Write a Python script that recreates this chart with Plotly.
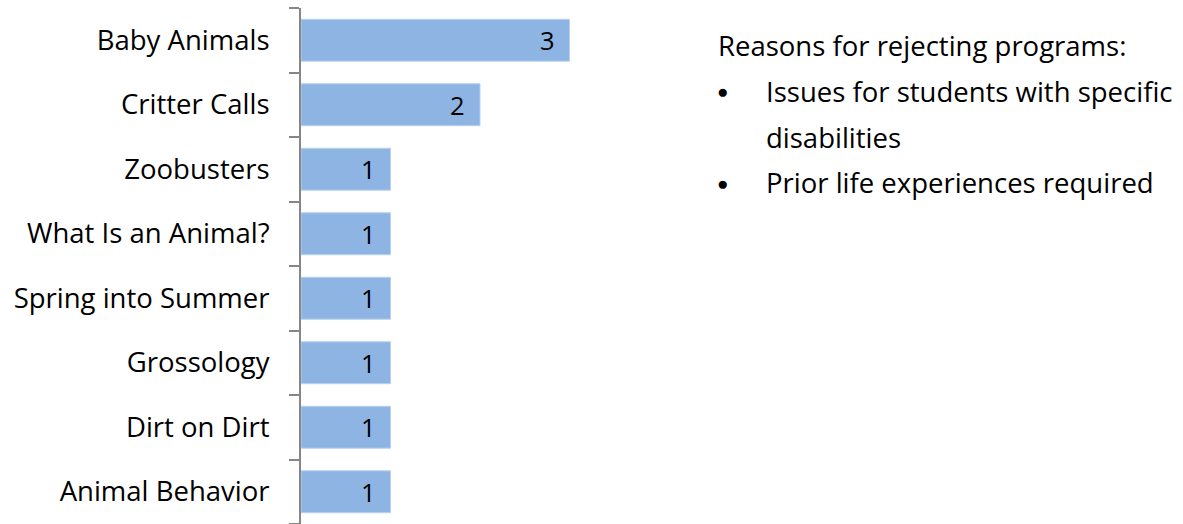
import plotly.graph_objects as go

categories = ["Baby Animals", "Critter Calls", "Zoobusters", "What Is an Animal?",
              "Spring into Summer", "Grossology", "Dirt on Dirt", "Animal Behavior"]
values = [3, 2, 1, 1, 1, 1, 1, 1]
note_title = "Reasons for rejecting programs:"
note_bullets = [["Issues for students with specific", "disabilities"],
                ["Prior life experiences required"]]

FONT = "Open Sans"
FS = 27.5
W, H = 1183, 524
L, R, T, B = 301, 524, 8, 0
pw = W - L - R
ph = H - T - B

fig = go.Figure(go.Bar(
    y=categories, x=values, orientation="h",
    marker=dict(color="#8EB4E3", line=dict(color="#B9D1EE", width=1)),
    hoverinfo="none",
))

fig.update_layout(
    width=W, height=H, margin=dict(l=L, r=R, t=T, b=B, pad=0),
    paper_bgcolor="white", plot_bgcolor="white",
    bargap=0.35, showlegend=False,
    font=dict(family=FONT, size=FS, color="black"),
    xaxis=dict(range=[0, 4], visible=False, fixedrange=True),
    yaxis=dict(categoryorder="array", categoryarray=categories[::-1],
               autorange=False, range=[-0.5, len(categories) - 0.5],
               showline=True, linecolor="#868686", linewidth=2,
               ticks="outside", ticklen=10, tickcolor="#868686", tickwidth=2,
               tickson="boundaries", showgrid=False, zeroline=False,
               ticklabelstandoff=24, fixedrange=True,
               tickfont=dict(family=FONT, size=FS, color="black")),
)

# value labels inside bar ends
for c, v in zip(categories, values):
    fig.add_annotation(x=v, y=c, xref="x", yref="y", text=str(v), showarrow=False,
                       xanchor="right", yanchor="middle", xshift=-13,
                       font=dict(family=FONT, size=FS - 2, color="black"))

def px(x):
    return (x - L) / pw

def py(y):
    return 1 - (y - T) / ph

ann = [dict(text=note_title, x=px(716), y=py(45), size=FS)]
ycur = 91
for lines in note_bullets:
    ann.append(dict(text="\u25CF", x=px(715), y=py(ycur), size=19))
    for ln in lines:
        ann.append(dict(text=ln, x=px(764), y=py(ycur), size=FS))
        ycur += 46
for a in ann:
    size = a.pop("size")
    fig.add_annotation(xref="paper", yref="paper", xanchor="left", yanchor="middle",
                       showarrow=False, font=dict(family=FONT, size=size, color="black"), **a)

fig.write_html("out.html", config={"displayModeBar": False, "staticPlot": True},
               post_script="document.body.style.margin='0';")
